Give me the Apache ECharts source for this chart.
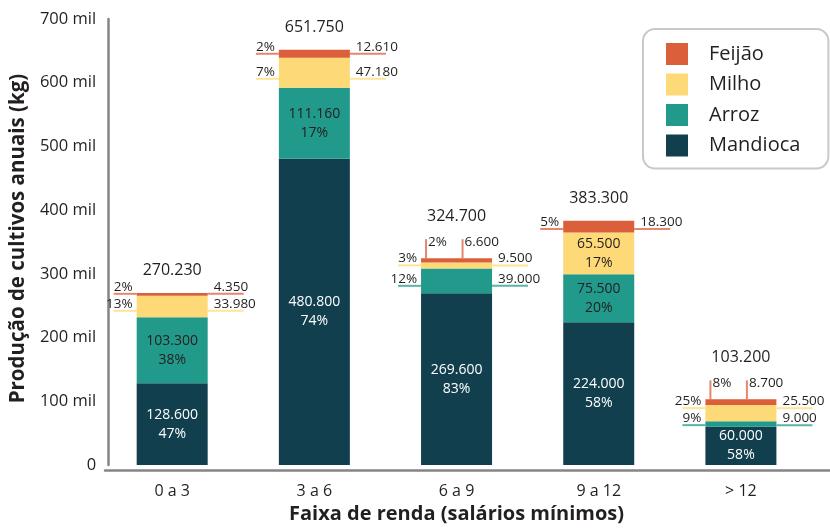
<!DOCTYPE html>
<html>
<head>
<meta charset="utf-8">
<script src="https://cdn.jsdelivr.net/npm/echarts@6/dist/echarts.min.js"></script>
<style>
html, body { margin: 0; padding: 0; background: #fff; }
#chart { width: 830px; height: 529px; }
</style>
</head>
<body>
<div id="chart"></div>
<script>
// dados
var faixas = ['0 a 3', '3 a 6', '6 a 9', '9 a 12', '> 12'];
var mandioca = [128600, 480800, 269600, 224000, 60000];
var arroz = [103300, 111160, 39000, 75500, 9000];
var milho = [33980, 47180, 9500, 65500, 25500];
var feijao = [4350, 12610, 6600, 18300, 8700];
var totais = [270230, 651750, 324700, 383300, 103200];
var pctMandioca = [47, 74, 83, 58, 58];
var pctArroz = [38, 17, 12, 20, 9];
var pctMilho = [13, 7, 3, 17, 25];
var pctFeijao = [2, 2, 2, 5, 8];
var yTickLabels = ['0', '100 mil', '200 mil', '300 mil', '400 mil', '500 mil', '600 mil', '700 mil'];

var BAR_W = 71;
var INSIDE_MIN = 55000; // segmentos menores levam rótulo por fora
var TXT = '#231f20';
var FONT = 'Open Sans';

// de baixo para cima
var culturas = [
    { nome: 'Mandioca', valores: mandioca, pct: pctMandioca, cor: '#113f4e', corTexto: '#ffffff' },
    { nome: 'Arroz', valores: arroz, pct: pctArroz, cor: '#229a8b', corTexto: TXT },
    { nome: 'Milho', valores: milho, pct: pctMilho, cor: '#fdd977', corTexto: TXT },
    { nome: 'Feijão', valores: feijao, pct: pctFeijao, cor: '#dc5f3c', corTexto: TXT }
];

function fmt(v) {
    return String(v).replace(/\B(?=(\d{3})+(?!\d))/g, '.');
}

function txt(text, x, y, align, size) {
    return {
        type: 'text',
        style: {
            text: text, x: x, y: y, fill: TXT, align: align, verticalAlign: 'middle',
            fontSize: size, fontFamily: FONT
        }
    };
}

function line(x1, y1, x2, y2, cor) {
    return {
        type: 'line',
        shape: { x1: x1, y1: y1, x2: x2, y2: y2 },
        style: { stroke: cor, lineWidth: 2, opacity: 0.75 }
    };
}

// rótulos externos (linhas de chamada) e totais
function renderRotulos(params, api) {
    var i = api.value(0);
    var cx = api.coord([i, 0])[0];
    var xL = cx - BAR_W / 2, xR = cx + BAR_W / 2;
    var kids = [];
    var base = 0, prevY = null, up = false;
    for (var k = 0; k < culturas.length; k++) {
        var c = culturas[k];
        var v = c.valores[i];
        var yBot = api.coord([i, base])[1];
        base += v;
        var yTop = api.coord([i, base])[1];
        if (v >= INSIDE_MIN) { prevY = null; continue; }
        var mid = (yTop + yBot) / 2;
        var y = prevY === null ? yBot - (yBot - yTop) * 0.3 : Math.min(mid, prevY - 17);
        if (prevY !== null && y < yTop - 2) {
            // sem espaço: linhas verticais para cima
            up = true;
            var x1 = xL + 5, x2 = cx + 6;
            kids.push(line(x1, yTop, x1, yTop - 19, c.cor));
            kids.push(line(x2, yTop, x2, yTop - 19, c.cor));
            kids.push(txt(c.pct[i] + '%', x1 + 2, yTop - 16, 'left', 13.5));
            kids.push(txt(fmt(v), x2 + 2, yTop - 16, 'left', 13.5));
        } else {
            kids.push(line(xL - 23, y, xL, y, c.cor));
            kids.push(line(xR, y, xR + 36, y, c.cor));
            kids.push(txt(c.pct[i] + '%', xL - 4, y - 7, 'right', 13.5));
            kids.push(txt(fmt(v), xR + 6, y - 7, 'left', 13.5));
        }
        prevY = y;
    }
    var topY = api.coord([i, totais[i]])[1];
    kids.push(txt(fmt(totais[i]), cx, up ? topY - 42 : topY - 22, 'center', 16));
    return { type: 'group', children: kids };
}

var series = culturas.map(function (c) {
    return {
        name: c.nome,
        type: 'bar',
        stack: 'total',
        barWidth: BAR_W,
        itemStyle: { color: c.cor },
        label: {
            show: true,
            position: 'inside',
            fontSize: 14,
            lineHeight: 19,
            fontFamily: FONT,
            color: c.corTexto,
            formatter: function (p) {
                var v = c.valores[p.dataIndex];
                return v >= INSIDE_MIN ? fmt(v) + '\n' + c.pct[p.dataIndex] + '%' : '';
            }
        },
        emphasis: { disabled: true },
        data: c.valores
    };
});

series.push({
    type: 'custom',
    name: 'rotulos',
    silent: true,
    z: 10,
    encode: { x: 0, y: 1 },
    data: faixas.map(function (f, i) { return [i, totais[i]]; }),
    renderItem: renderRotulos
});

var chart = echarts.init(document.getElementById('chart'));
chart.setOption({
    animation: false,
    textStyle: { fontFamily: FONT, color: TXT },
    legend: {
        data: ['Feijão', 'Milho', 'Arroz', 'Mandioca'],
        orient: 'vertical',
        left: 643,
        top: 29,
        padding: [14, 28, 12, 23],
        itemWidth: 22,
        itemHeight: 22,
        itemGap: 8.5,
        icon: 'rect',
        borderColor: '#c9c9c9',
        borderWidth: 2,
        borderRadius: 12,
        textStyle: { fontSize: 20, color: TXT, padding: [0, 0, 0, 16], fontFamily: FONT }
    },
    grid: [
        { left: 98, right: 18, top: 19, bottom: 59 },
        { left: 105, right: 0, top: 19, bottom: 59 }
    ],
    xAxis: [
        {
            type: 'category',
            data: faixas,
            gridIndex: 0,
            axisLine: { show: false },
            axisTick: { show: false },
            axisLabel: { fontSize: 16, color: TXT, margin: 18, fontFamily: FONT },
            name: 'Faixa de renda (salários mínimos)',
            nameLocation: 'middle',
            nameGap: 36,
            nameTextStyle: { fontSize: 20, fontWeight: 'bold', color: TXT, fontFamily: FONT }
        },
        {
            type: 'value',
            gridIndex: 1,
            min: 0,
            max: 1,
            axisLine: { show: true, lineStyle: { color: '#858585', width: 2.5 } },
            axisTick: { show: false },
            axisLabel: { show: false },
            splitLine: { show: false }
        }
    ],
    yAxis: [
        {
            type: 'value',
            gridIndex: 0,
            min: 0,
            max: 700000,
            interval: 100000,
            offset: -7,
            axisLine: { show: true, lineStyle: { color: '#858585', width: 2.5 } },
            axisTick: { show: false },
            splitLine: { show: false },
            axisLabel: {
                fontSize: 16.5, color: TXT, margin: 12, fontFamily: FONT,
                formatter: function (v) { return yTickLabels[Math.round(v / 100000)]; }
            },
            name: 'Produção de cultivos anuais (kg)',
            nameLocation: 'middle',
            nameGap: 61,
            nameTextStyle: { fontSize: 20.5, fontWeight: 'bold', color: TXT, fontFamily: FONT, padding: [0, 0, 0, 7] }
        },
        { type: 'value', gridIndex: 1, show: false, min: 0, max: 1 }
    ],
    series: series
});
</script>
</body>
</html>
